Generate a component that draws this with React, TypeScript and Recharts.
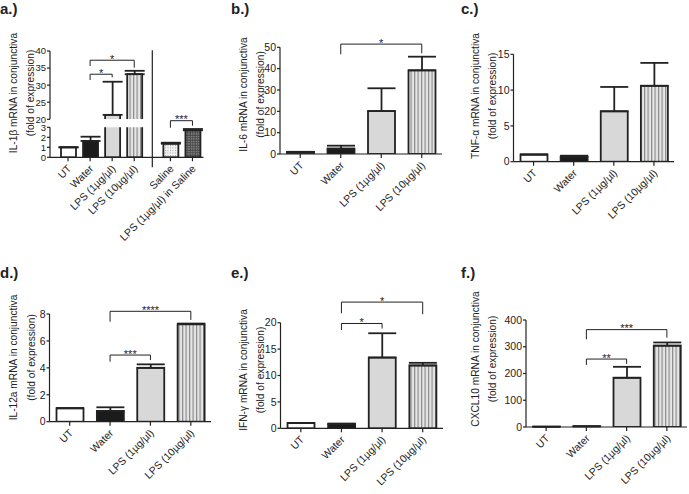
import React from "react";
import { Bar, BarChart, ErrorBar, ReferenceLine, XAxis, YAxis } from "recharts";

const groups = ["UT", "Water", "LPS (1µg/µl)", "LPS (10µg/µl)"];
const salineGroups = ["Saline", "LPS (1µg/µl) in Saline"];

// a.) IL-1β (broken axis: 0-3 below, 20-40 above)
const il1bMean = [1.0, 1.63, 21.3, 33.2];
const il1bSem = [0, 0.43, 9.7, 1.0];
const il1bSalineMean = [1.36, 2.7];
const il1bSalineSem = [0.1, 0.13];
const il1bTicksLow = [0, 1, 2, 3];
const il1bTicksHigh = [20, 25, 30, 35, 40];

// b.) IL-6
const il6Mean = [1.0, 2.5, 20.1, 39.2];
const il6Sem = [0, 1.4, 10.7, 6.4];
const il6Ticks = [0, 10, 20, 30, 40, 50];

// c.) TNF-α
const tnfMean = [1.0, 0.7, 7.04, 10.6];
const tnfSem = [0, 0.14, 3.4, 3.2];
const tnfTicks = [0, 5, 10, 15];

// d.) IL-12a
const il12Mean = [1.0, 0.8, 4.0, 7.24];
const il12Sem = [0, 0.27, 0.26, 0.05];
const il12Ticks = [0, 2, 4, 6, 8];

// e.) IFN-γ
const ifnMean = [1.0, 0.8, 13.4, 11.9];
const ifnSem = [0, 0.1, 4.6, 0.5];
const ifnTicks = [0, 5, 10, 15, 20];

// f.) CXCL10
const cxclMean = [1, 2, 184, 304];
const cxclSem = [0, 1, 41, 12];
const cxclTicks = [0, 100, 200, 300, 400];

type Bracket = { from: string | number; to: string | number; y: number; left: number; right: number; stars: string };

const INK = "#222";
const FONT = '"Liberation Sans", Arial, Helvetica, sans-serif';
const GROUP_GAP = 0.64; // extra room before the saline pair in panel a

const fills: Record<string, string> = {
  UT: "#ffffff",
  Water: "#1b1b1b",
  "LPS (1µg/µl)": "#d8d8d8",
  "LPS (10µg/µl)": "url(#stripes)",
  Saline: "url(#dots)",
  "LPS (1µg/µl) in Saline": "url(#checker)",
};

type Frame = { left: number; top: number; width: number; height: number; plot: [number, number, number, number] };

function layout(f: Frame, hideX = false) {
  const [l, t, r, b] = f.plot;
  const xHeight = f.top + f.height - b;
  return {
    width: f.width,
    height: f.height,
    margin: { top: t - f.top, right: f.left + f.width - r, left: 0, bottom: hideX ? xHeight : 0 },
    yWidth: l - f.left,
    xHeight,
  };
}

function AxisTitle({ viewBox, lines, offsets, centerY, frameTop }: any) {
  const ax = viewBox ? viewBox.x + viewBox.width : 0;
  const y = centerY - frameTop;
  return (
    <g>
      {lines.map((s: string, i: number) => {
        const x = ax - offsets[i];
        return (
          <text key={i} x={x} y={y} transform={`rotate(-90 ${x} ${y})`} textAnchor="middle" fontSize={10.2} fill={INK}>
            {s}
          </text>
        );
      })}
    </g>
  );
}

function XTick({ x, y, payload, labelOf }: any) {
  const text = labelOf ? labelOf(payload.value) : payload.value;
  const ax = x + 4;
  const ay = y + 6;
  return (
    <text x={ax} y={ay} transform={`rotate(-45 ${ax} ${ay})`} textAnchor="end" fontSize={10.5} fill={INK}>
      {text}
    </text>
  );
}

function Stars({ viewBox, stars }: any) {
  if (!viewBox) return null;
  const x = viewBox.x + viewBox.width / 2;
  const y = viewBox.y + 2.5;
  // a hair of rotation keeps the tiny glyphs on grayscale antialiasing
  return (
    <text x={x} y={y} transform={`rotate(0.02 ${x} ${y})`} textAnchor="middle" fontSize={11} fill={INK}>
      {stars}
    </text>
  );
}

function barShape(openBottom: boolean) {
  return (p: any) => {
    const { x, y, width, height, payload } = p;
    if (!height || height <= 0) return <g />;
    const fill = fills[payload.name];
    if (openBottom) {
      return (
        <g>
          <rect x={x} y={y} width={width} height={height} fill={fill} />
          <path d={`M${x},${y + height}V${y}H${x + width}V${y + height}`} fill="none" stroke={INK} strokeWidth={1.8} />
        </g>
      );
    }
    return <rect x={x} y={y} width={width} height={height} fill={fill} stroke={INK} strokeWidth={1.8} />;
  };
}

function bracket(b: Bracket, i: number) {
  const line = { stroke: INK, strokeWidth: 1, ifOverflow: "visible" as const };
  return [
    <ReferenceLine
      key={`h${i}`}
      segment={[{ x: b.from, y: b.y }, { x: b.to, y: b.y }]}
      {...line}
      label={<Stars stars={b.stars} />}
    />,
    <ReferenceLine key={`l${i}`} segment={[{ x: b.from, y: b.y }, { x: b.from, y: b.left }]} {...line} />,
    <ReferenceLine key={`r${i}`} segment={[{ x: b.to, y: b.y }, { x: b.to, y: b.right }]} {...line} />,
  ];
}

const axisStyle = { stroke: INK, strokeWidth: 1.2 };
const yTick = { fontSize: 10.5, fill: INK };

type PanelProps = {
  frame: Frame;
  mean: number[];
  sem: number[];
  ticks: number[];
  title: { lines: string[]; offsets: number[]; centerY: number };
  brackets: Bracket[];
};

function Panel({ frame, mean, sem, ticks, title, brackets }: PanelProps) {
  const rows = groups.map((name, i) => ({ name, mean: mean[i], err: [0, sem[i]] }));
  const L = layout(frame);
  return (
    <div style={{ position: "absolute", left: frame.left, top: frame.top }}>
      <BarChart width={L.width} height={L.height} data={rows} margin={L.margin} barSize={27}>
        <XAxis dataKey="name" height={L.xHeight} interval={0} tickSize={4} tick={<XTick />} axisLine={axisStyle} tickLine={axisStyle} />
        <YAxis
          domain={[ticks[0], ticks[ticks.length - 1]]}
          ticks={ticks}
          interval={0}
          allowDataOverflow
          width={L.yWidth}
          tickSize={3}
          tickMargin={1}
          tick={yTick}
          axisLine={axisStyle}
          tickLine={axisStyle}
          label={<AxisTitle lines={title.lines} offsets={title.offsets} centerY={title.centerY} frameTop={frame.top} />}
        />
        <Bar dataKey="mean" shape={barShape(false)} isAnimationActive={false}>
          <ErrorBar dataKey="err" width={14} stroke={INK} strokeWidth={1.8} direction="y" />
        </Bar>
        {brackets.flatMap((b, i) => bracket(b, i))}
      </BarChart>
    </div>
  );
}

// panel a rows on a numeric axis so the saline pair can sit apart
const aRows = [...groups, ...salineGroups].map((name, i) => {
  const mean = i < 4 ? il1bMean[i] : il1bSalineMean[i - 4];
  const sem = i < 4 ? il1bSem[i] : il1bSalineSem[i - 4];
  return { name, pos: i < 4 ? i : i + GROUP_GAP, mean, sem };
});
const aPos = (name: string) => aRows.find((r) => r.name === name)!.pos;
const aLabel = (v: number) => aRows.find((r) => r.pos === v)?.name ?? "";
const aLowRows = aRows.map((r) => ({ ...r, err: r.mean <= il1bTicksLow[3] ? [0, r.sem] : null }));
const aHighRows = aRows.map((r) => ({
  ...r,
  mean: r.mean > il1bTicksHigh[0] ? r.mean : null,
  err: r.mean > il1bTicksHigh[0] ? [0, r.sem] : null,
}));
const aDomain = [aRows[0].pos - 0.5, aRows[aRows.length - 1].pos + 0.5];
const aDivider = (aPos("LPS (10µg/µl)") + aPos("Saline")) / 2;

const aHighBrackets: Bracket[] = [
  { from: aPos("Water"), to: aPos("LPS (10µg/µl)"), y: 37.3, left: 35.6, right: 35.1, stars: "*" },
  { from: aPos("Water"), to: aPos("LPS (1µg/µl)"), y: 33.2, left: 31.5, right: 32.3, stars: "*" },
];
const aLowBrackets: Bracket[] = [
  { from: aPos("Saline"), to: aPos("LPS (1µg/µl) in Saline"), y: 3.66, left: 2.96, right: 3.16, stars: "***" },
];

function PanelA() {
  const low = layout({ left: 0, top: 0, width: 225, height: 250, plot: [50, 127.3, 203.5, 157.3] });
  const high = layout({ left: 0, top: 0, width: 225, height: 125, plot: [50, 51, 203.5, 119.3] }, true);
  const xCommon = {
    dataKey: "pos",
    type: "number" as const,
    domain: aDomain,
    ticks: aRows.map((r) => r.pos),
    interval: 0 as const,
    padding: { left: 7, right: 0 },
    allowDataOverflow: true,
  };
  const yCommon = {
    allowDataOverflow: true,
    interval: 0 as const,
    tickSize: 3,
    tickMargin: 1,
    tick: { fontSize: 9.5, fill: INK },
    axisLine: axisStyle,
    tickLine: axisStyle,
  };
  return (
    <>
      <div style={{ position: "absolute", left: 0, top: 0 }}>
        <BarChart width={low.width} height={low.height} data={aLowRows} margin={low.margin} barSize={15}>
          <XAxis {...xCommon} height={low.xHeight} tickSize={4} tick={<XTick labelOf={aLabel} />} axisLine={axisStyle} tickLine={axisStyle} />
          <YAxis
            {...yCommon}
            domain={[il1bTicksLow[0], il1bTicksLow[3]]}
            ticks={il1bTicksLow}
            width={low.yWidth}
            label={<AxisTitle lines={["IL-1β mRNA in conjunctiva", "(fold of expression)"]} offsets={[33, 16]} centerY={93} frameTop={0} />}
          />
          <Bar dataKey="mean" shape={barShape(false)} isAnimationActive={false}>
            <ErrorBar dataKey="err" width={10} stroke={INK} strokeWidth={1.8} direction="y" />
          </Bar>
          <ReferenceLine segment={[{ x: aDivider, y: -1 }, { x: aDivider, y: 10.7 }]} stroke={INK} strokeWidth={1.2} ifOverflow="visible" />
          {aLowBrackets.flatMap((b, i) => bracket(b, i))}
        </BarChart>
      </div>
      <div style={{ position: "absolute", left: 0, top: 0 }}>
        <BarChart width={high.width} height={high.height} data={aHighRows} margin={high.margin} barSize={15}>
          <XAxis {...xCommon} hide />
          <YAxis {...yCommon} domain={[il1bTicksHigh[0], il1bTicksHigh[4]]} ticks={il1bTicksHigh} width={high.yWidth} />
          <Bar dataKey="mean" shape={barShape(true)} isAnimationActive={false}>
            <ErrorBar dataKey="err" width={10} stroke={INK} strokeWidth={1.8} direction="y" />
          </Bar>
          {aHighBrackets.flatMap((b, i) => bracket(b, i))}
        </BarChart>
      </div>
    </>
  );
}

const W = "Water";
const L1 = "LPS (1µg/µl)";
const L10 = "LPS (10µg/µl)";
const fold = "(fold of expression)";

function PanelLabel({ text, left, top }: { text: string; left: number; top: number }) {
  return (
    <div style={{ position: "absolute", left, top, fontSize: 15, fontWeight: "bold", lineHeight: "15px", color: INK }}>{text}</div>
  );
}

export default function App() {
  return (
    <div style={{ position: "absolute", left: 0, top: 0, width: 689, height: 494, background: "#fff", fontFamily: FONT, overflow: "hidden" }}>
      <svg width={0} height={0} style={{ position: "absolute" }}>
        <defs>
          <pattern id="stripes" patternUnits="userSpaceOnUse" width={3.5} height={10}>
            <rect width={3.5} height={10} fill="#e6e6e6" />
            <rect width={1.2} height={10} fill="#8a8a8a" />
          </pattern>
          <pattern id="dots" patternUnits="userSpaceOnUse" width={2.5} height={2.5}>
            <rect width={2.5} height={2.5} fill="#f4f4f4" />
            <rect width={1} height={1} fill="#9a9a9a" />
          </pattern>
          <pattern id="checker" patternUnits="userSpaceOnUse" width={2.5} height={2.5}>
            <rect width={2.5} height={2.5} fill="#4a4a4a" />
            <rect x={1} y={1} width={1} height={1} fill="#d0d0d0" />
          </pattern>
        </defs>
      </svg>

      <PanelA />
      <Panel
        frame={{ left: 225, top: 0, width: 230, height: 250, plot: [280, 47.3, 442, 154] }}
        mean={il6Mean}
        sem={il6Sem}
        ticks={il6Ticks}
        title={{ lines: ["IL-6 mRNA in conjunctiva", fold], offsets: [32.7, 16], centerY: 94.5 }}
        brackets={[{ from: W, to: L10, y: 51.5, left: 46.7, right: 47.2, stars: "*" }]}
      />
      <Panel
        frame={{ left: 455, top: 0, width: 234, height: 250, plot: [513.5, 54.3, 674, 161.7] }}
        mean={tnfMean}
        sem={tnfSem}
        ticks={tnfTicks}
        title={{ lines: ["TNF-α mRNA in conjunctiva", fold], offsets: [34.5, 17.8], centerY: 96 }}
        brackets={[]}
      />
      <Panel
        frame={{ left: 0, top: 255, width: 225, height: 239, plot: [49.5, 314, 211, 421.7] }}
        mean={il12Mean}
        sem={il12Sem}
        ticks={il12Ticks}
        title={{ lines: ["IL-12a mRNA in conjunctiva", fold], offsets: [32.2, 14.8], centerY: 357.5 }}
        brackets={[
          { from: W, to: L10, y: 8.2, left: 7.43, right: 7.56, stars: "****" },
          { from: W, to: L1, y: 4.95, left: 4.46, right: 4.58, stars: "***" },
        ]}
      />
      <Panel
        frame={{ left: 225, top: 255, width: 230, height: 239, plot: [280.5, 322.7, 443, 428.3] }}
        mean={ifnMean}
        sem={ifnSem}
        ticks={ifnTicks}
        title={{ lines: ["IFN-γ mRNA in conjunctiva", fold], offsets: [33.2, 16.5], centerY: 370 }}
        brackets={[
          { from: W, to: L10, y: 23.9, left: 21.8, right: 21.6, stars: "*" },
          { from: W, to: L1, y: 19.85, left: 18.6, right: 18.9, stars: "*" },
        ]}
      />
      <Panel
        frame={{ left: 455, top: 255, width: 234, height: 239, plot: [526, 320, 687, 427] }}
        mean={cxclMean}
        sem={cxclSem}
        ticks={cxclTicks}
        title={{ lines: ["CXCL10 mRNA in conjunctiva", fold], offsets: [47, 30.3], centerY: 359 }}
        brackets={[
          { from: W, to: L10, y: 364, left: 328, right: 334, stars: "***" },
          { from: W, to: L1, y: 254, left: 232, right: 236, stars: "**" },
        ]}
      />

      <PanelLabel text="a.)" left={0} top={1} />
      <PanelLabel text="b.)" left={231} top={1} />
      <PanelLabel text="c.)" left={461} top={1} />
      <PanelLabel text="d.)" left={0} top={265} />
      <PanelLabel text="e.)" left={231} top={265} />
      <PanelLabel text="f.)" left={461} top={265} />
    </div>
  );
}
